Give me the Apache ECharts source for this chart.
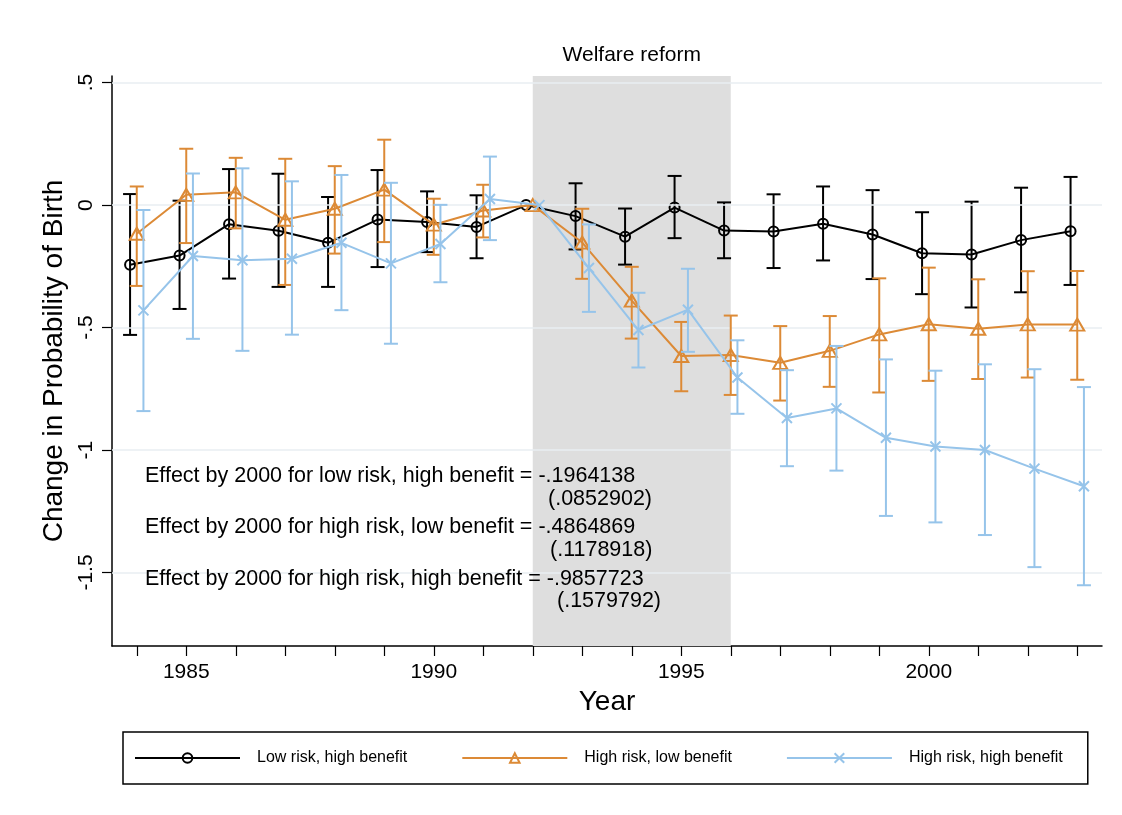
<!DOCTYPE html>
<html>
<head>
<meta charset="utf-8">
<title>Change in Probability of Birth</title>
<script src="https://cdn.jsdelivr.net/npm/echarts@6/dist/echarts.min.js"></script>
<style>
  html, body { margin: 0; padding: 0; background: #ffffff; }
  #chart { width: 1122px; height: 815px; }
</style>
</head>
<body>
<div id="chart"></div>
<script>
// ---- data ----
const years = [1984, 1985, 1986, 1987, 1988, 1989, 1990, 1991, 1992, 1993,
               1994, 1995, 1996, 1997, 1998, 1999, 2000, 2001, 2002, 2003];
const xTickLabels = [1985, 1990, 1995, 2000];
const yTickValues = [-1.5, -1, -0.5, 0, 0.5];
const seriesNames = ['Low risk, high benefit', 'High risk, low benefit', 'High risk, high benefit'];
const reformYears = [1992, 1996];
const reformLabel = 'Welfare reform';

// Low risk, high benefit: point estimates and 95% bounds (1992 is the base year)
const lowHighCoef  = [-0.244, -0.206, -0.078, -0.105, -0.154, -0.059, -0.069, -0.089, 0, -0.045,
                      -0.129, -0.010, -0.104, -0.108, -0.076, -0.120, -0.1964138, -0.202, -0.143, -0.107];
const lowHighUpper = [0.045, 0.018, 0.147, 0.128, 0.033, 0.143, 0.056, 0.040, null, 0.089,
                      -0.014, 0.119, 0.011, 0.044, 0.076, 0.061, -0.0292, 0.014, 0.071, 0.115];
const lowHighLower = [-0.530, -0.424, -0.300, -0.334, -0.334, -0.253, -0.192, -0.217, null, -0.181,
                      -0.243, -0.135, -0.217, -0.257, -0.226, -0.302, -0.3636, -0.418, -0.356, -0.326];

// High risk, low benefit
const highLowCoef  = [-0.117, 0.042, 0.052, -0.060, -0.015, 0.063, -0.080, -0.022, 0, -0.153,
                      -0.390, -0.616, -0.612, -0.644, -0.595, -0.528, -0.4864869, -0.505, -0.487, -0.488];
const highLowUpper = [0.076, 0.230, 0.193, 0.189, 0.159, 0.267, 0.026, 0.083, null, -0.015,
                      -0.252, -0.477, -0.451, -0.494, -0.453, -0.299, -0.2554, -0.303, -0.270, -0.269];
const highLowLower = [-0.330, -0.155, -0.095, -0.326, -0.198, -0.151, -0.203, -0.132, null, -0.301,
                      -0.545, -0.760, -0.775, -0.798, -0.742, -0.765, -0.7176, -0.710, -0.704, -0.713];

// High risk, high benefit
const highHighCoef  = [-0.430, -0.208, -0.225, -0.219, -0.154, -0.238, -0.159, 0.025, 0, -0.257,
                       -0.510, -0.427, -0.704, -0.869, -0.830, -0.950, -0.9857723, -1.000, -1.076, -1.148];
const highHighUpper = [-0.020, 0.129, 0.150, 0.097, 0.123, 0.091, 0.001, 0.198, null, -0.079,
                       -0.358, -0.260, -0.552, -0.674, -0.575, -0.630, -0.6761, -0.650, -0.670, -0.743];
const highHighLower = [-0.841, -0.546, -0.595, -0.529, -0.429, -0.566, -0.315, -0.143, null, -0.436,
                       -0.663, -0.599, -0.852, -1.066, -1.084, -1.269, -1.2954, -1.347, -1.478, -1.552];

// Standard errors of the 2000 effects
const se2000 = [0.0852902, 0.1178918, 0.1579792];

// ---- styling ----
const FONT = '"Liberation Sans", Arial, Helvetica, sans-serif';
const COLORS = ['#000000', '#dc8a36', '#96c4ea'];
const DODGE = [-0.135, 0, 0.135];          // horizontal offset of each group, in years
const SYMBOLS = ['circle', 'triangle', 'path://M0,0L10,10M0,10L10,0'];
const SYMBOL_SIZES = [10, [14, 12], 10];

const coefs  = [lowHighCoef, highLowCoef, highHighCoef];
const uppers = [lowHighUpper, highLowUpper, highHighUpper];
const lowers = [lowHighLower, highLowLower, highHighLower];

// Stata-style numbers: no leading zero before the decimal point
function stataNum(v) {
  return String(v).replace(/^(-?)0\./, '$1.');
}

function errorBarRenderer(color) {
  return function (params, api) {
    const x = api.value(0);
    const lo = api.coord([x, api.value(1)]);
    const hi = api.coord([x, api.value(2)]);
    const hw = 7;
    const style = { stroke: color, lineWidth: 2, fill: null };
    return {
      type: 'group',
      children: [
        { type: 'line', shape: { x1: hi[0], y1: hi[1], x2: lo[0], y2: lo[1] }, style: style },
        { type: 'line', shape: { x1: hi[0] - hw, y1: hi[1], x2: hi[0] + hw, y2: hi[1] }, style: style },
        { type: 'line', shape: { x1: lo[0] - hw, y1: lo[1], x2: lo[0] + hw, y2: lo[1] }, style: style }
      ]
    };
  };
}

const series = [];

// light horizontal grid lines
series.push({
  type: 'line', data: [], z: 1, silent: true,
  markLine: {
    silent: true, animation: false, symbol: ['none', 'none'],
    label: { show: false },
    lineStyle: { color: '#e9eef2', width: 1.5, type: 'solid' },
    data: yTickValues.map(v => ({ yAxis: v }))
  }
});

// reform period band
series.push({
  type: 'line', data: [], z: 2, silent: true,
  markArea: {
    silent: true, animation: false,
    itemStyle: { color: '#dedede' },
    label: { show: true, position: 'top', distance: 10, color: '#000', fontSize: 21, fontFamily: FONT },
    data: [[{ name: reformLabel, xAxis: reformYears[0] }, { xAxis: reformYears[1] }]]
  }
});

seriesNames.forEach((name, k) => {
  const bars = [];
  years.forEach((yr, i) => {
    if (lowers[k][i] !== null && uppers[k][i] !== null) {
      bars.push([yr + DODGE[k], lowers[k][i], uppers[k][i]]);
    }
  });
  series.push({
    type: 'custom', name: name + ' CI', z: 3 + 2 * k, silent: true,
    renderItem: errorBarRenderer(COLORS[k]),
    data: bars
  });
  series.push({
    type: 'line', name: name, z: 4 + 2 * k, silent: true,
    data: years.map((yr, i) => [yr + DODGE[k], coefs[k][i]]),
    symbol: SYMBOLS[k], symbolSize: SYMBOL_SIZES[k], showSymbol: true,
    lineStyle: { color: COLORS[k], width: 2 },
    itemStyle: { color: 'rgba(255,255,255,0)', borderColor: COLORS[k], borderWidth: 2 },
    emphasis: { disabled: true }
  });
});

// effect annotations
const idx2000 = years.indexOf(2000);
const annotY = [476, 527.5, 579];
const parenY = [499, 550, 601];
const parenX = [548, 550, 557];
const graphics = [];
seriesNames.forEach((name, k) => {
  graphics.push({
    type: 'text', x: 145, y: annotY[k], z: 100, silent: true,
    style: {
      text: 'Effect by 2000 for ' + name.toLowerCase() + ' = ' + stataNum(coefs[k][idx2000]),
      fontSize: 21.5, fontFamily: FONT, fill: '#000', verticalAlign: 'middle'
    }
  });
  graphics.push({
    type: 'text', x: parenX[k], y: parenY[k], z: 100, silent: true,
    style: {
      text: '(' + stataNum(se2000[k]) + ')',
      fontSize: 21.5, fontFamily: FONT, fill: '#000', verticalAlign: 'middle'
    }
  });
});

const chart = echarts.init(document.getElementById('chart'), null, { renderer: 'canvas' });
chart.setOption({
  animation: false,
  backgroundColor: '#ffffff',
  grid: { left: 112, right: 20, top: 76, bottom: 169, containLabel: false },
  legend: {
    data: seriesNames,
    left: 123, top: 732,
    orient: 'horizontal',
    itemWidth: 105, itemHeight: 12, itemGap: 54,
    padding: [18, 25, 18, 11],
    borderColor: '#000', borderWidth: 1.5, borderRadius: 0,
    selectedMode: false,
    lineStyle: { width: 2 },
    itemStyle: { borderWidth: 2 },
    textStyle: { fontSize: 16, color: '#000', fontFamily: FONT, padding: [0, 0, 0, 12] }
  },
  xAxis: {
    type: 'value', min: 1983.5, max: 2003.5,
    name: 'Year', nameLocation: 'middle', nameGap: 40,
    nameTextStyle: { fontSize: 28, color: '#000', fontFamily: FONT },
    axisLine: { show: true, onZero: false, lineStyle: { color: '#000', width: 1.5 } },
    axisTick: { show: true, length: 10, customValues: years, lineStyle: { color: '#000', width: 1.2 } },
    axisLabel: {
      customValues: xTickLabels, margin: 16, fontSize: 21, color: '#000', fontFamily: FONT,
      formatter: v => String(v)
    },
    splitLine: { show: false }
  },
  yAxis: {
    type: 'value', min: -1.8, max: 0.527,
    name: 'Change in Probability of Birth', nameLocation: 'middle', nameGap: 44,
    nameTextStyle: { fontSize: 28, color: '#000', fontFamily: FONT },
    axisLine: { show: true, onZero: false, lineStyle: { color: '#000', width: 1.5 } },
    axisTick: { show: true, length: 10, customValues: yTickValues, lineStyle: { color: '#000', width: 1.2 } },
    axisLabel: {
      customValues: yTickValues, rotate: 90, margin: 15, fontSize: 21, color: '#000', fontFamily: FONT,
      formatter: v => stataNum(v)
    },
    splitLine: { show: false }
  },
  series: series,
  graphic: graphics
});
</script>
</body>
</html>
